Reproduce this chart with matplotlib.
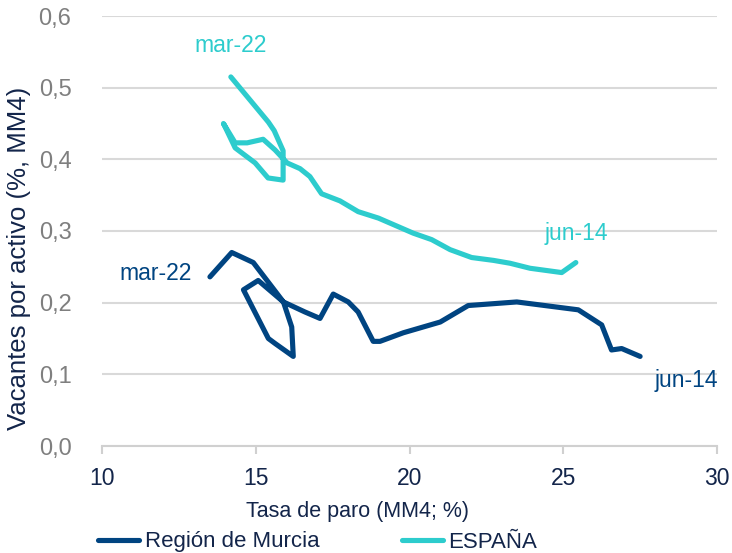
import matplotlib
matplotlib.use("Agg")
import matplotlib.pyplot as plt

# Data (chronological order from jun-14 to mar-22)
murcia_paro = [27.50, 26.90, 26.57, 26.25, 25.49, 23.49, 21.91, 21.00, 19.80, 19.04, 18.82,
               18.33, 18.01, 17.52, 17.09, 16.60, 15.90, 15.08, 14.60, 15.41, 15.63, 16.22,
               16.17, 15.90, 14.92, 14.22, 13.51]
murcia_vac = [0.125, 0.136, 0.134, 0.169, 0.190, 0.201, 0.196, 0.173, 0.158, 0.146, 0.146,
              0.187, 0.201, 0.212, 0.178, 0.187, 0.201, 0.231, 0.218, 0.150, 0.143, 0.125,
              0.166, 0.201, 0.256, 0.270, 0.236]

espana_paro = [25.41, 24.95, 23.92, 23.27, 22.73, 22.02, 21.32, 20.72, 20.12, 19.69, 18.99,
               18.33, 17.74, 17.14, 16.76, 16.44, 16.02, 15.63, 15.24, 14.72, 14.33, 13.95,
               14.33, 14.98, 15.40, 15.89, 15.89, 15.60, 15.41, 14.19]
espana_vac = [0.256, 0.242, 0.248, 0.255, 0.259, 0.263, 0.274, 0.288, 0.297, 0.305, 0.318,
              0.327, 0.342, 0.352, 0.376, 0.387, 0.395, 0.413, 0.428, 0.423, 0.423, 0.450,
              0.416, 0.395, 0.374, 0.371, 0.412, 0.440, 0.452, 0.515]

series_names = ["Región de Murcia", "ESPAÑA"]
x_ticks = [10, 15, 20, 25, 30]
y_ticks = [0.0, 0.1, 0.2, 0.3, 0.4, 0.5, 0.6]
y_tick_labels = ["0,0", "0,1", "0,2", "0,3", "0,4", "0,5", "0,6"]

C_MURCIA = "#004481"
C_ESP = "#2dcccd"
C_TEXT = "#13254a"
C_GRAY = "#7f7f7f"
FONT = "Liberation Sans"

fig = plt.figure(figsize=(7.32, 5.53), dpi=100)
ax = fig.add_axes([102/732, 1-446/553, (717-102)/732, (446-16)/553])

l1, = ax.plot(murcia_paro, murcia_vac, color=C_MURCIA, lw=3.7, solid_capstyle="round",
              solid_joinstyle="round", label=series_names[0], zorder=3)
l2, = ax.plot(espana_paro, espana_vac, color=C_ESP, lw=3.7, solid_capstyle="round",
              solid_joinstyle="round", label=series_names[1], zorder=3)

ax.set_xlim(10, 30)
ax.set_ylim(0, 0.6)
ax.set_xticks(x_ticks)
ax.set_xticklabels([str(t) for t in x_ticks], fontsize=16.5, family=FONT, color=C_TEXT)
ax.set_yticks(y_ticks)
ax.set_yticklabels(y_tick_labels, fontsize=17, family=FONT, color=C_GRAY)
ax.tick_params(axis="x", direction="out", length=6, width=1.5, color="#d0d0d0", pad=9)
ax.tick_params(axis="y", length=0, pad=22)
ax.grid(axis="y", color="#d9d9d9", lw=1.5)
ax.set_axisbelow(True)
for s in ["top", "right", "left"]:
    ax.spines[s].set_visible(False)
ax.spines["bottom"].set_color("#d0d0d0")
ax.spines["bottom"].set_linewidth(1.5)

# point labels
ax.text(espana_paro[-1], espana_vac[-1] + 0.044, "mar-22", color=C_ESP, fontsize=16.5,
        family=FONT, ha="center", va="center")
ax.text(espana_paro[0], espana_vac[0] + 0.04, "jun-14", color=C_ESP, fontsize=16.5,
        family=FONT, ha="center", va="center")
ax.text(murcia_paro[-1] - 0.6, murcia_vac[-1] + 0.005, "mar-22", color=C_MURCIA, fontsize=16.5,
        family=FONT, ha="right", va="center")
ax.text(murcia_paro[0] + 1.49, murcia_vac[0] - 0.034, "jun-14", color=C_MURCIA, fontsize=16.5,
        family=FONT, ha="center", va="center")

fig.text(357/732, 1-511/553, "Tasa de paro (MM4; %)", fontsize=15.5, family=FONT,
         color=C_TEXT, ha="center", va="center")
fig.text(19/732, 1-258/553, "Vacantes por activo (%, MM4)", fontsize=18.5, family=FONT,
         color=C_TEXT, ha="center", va="center", rotation=90)

fig.legend(handles=[l1, l2], loc="center left", bbox_to_anchor=(98/732, 1-542/553),
           ncol=2, frameon=False, prop={"family": FONT, "size": 16},
           handlelength=1.85, handletextpad=0.25, columnspacing=3.7, borderpad=0,
           borderaxespad=0, labelcolor=C_TEXT)

fig.savefig("out.png", dpi=100)
